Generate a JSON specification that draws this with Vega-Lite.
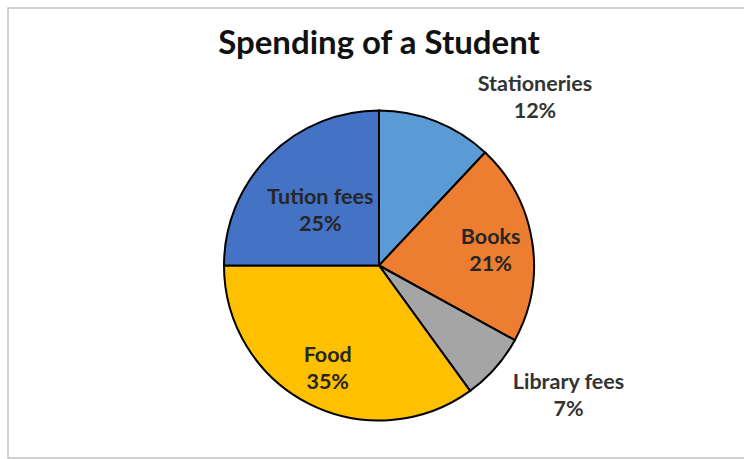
{
  "$schema": "https://vega.github.io/schema/vega-lite/v6.json",
  "width": 744,
  "height": 459,
  "autosize": {"type": "fit", "contains": "padding"},
  "padding": {"left": 8, "top": 8, "right": -6, "bottom": 1},
  "background": "white",
  "view": {"stroke": "#c4c4c4", "strokeWidth": 1.5},
  "config": {"view": {"stroke": "#c4c4c4", "strokeWidth": 1.5}},
  "title": {"text": "Spending of a Student", "font": "Lato", "fontSize": 33, "fontWeight": "bold", "color": "#111111", "anchor": "middle", "offset": -79, "baseline": "alphabetic"},
  "data": {"values": [
    {"category": "Stationeries", "value": 12, "ord": 1},
    {"category": "Books", "value": 21, "ord": 2},
    {"category": "Library fees", "value": 7, "ord": 3},
    {"category": "Food", "value": 35, "ord": 4},
    {"category": "Tution fees", "value": 25, "ord": 5}
  ]},
  "transform": [{"calculate": "datum.category + '\\n' + datum.value + '%'", "as": "label"}],
  "encoding": {
    "theta": {"field": "value", "type": "quantitative", "stack": true},
    "order": {"field": "ord", "type": "quantitative"}
  },
  "layer": [
    {
      "mark": {"type": "arc", "outerRadius": 155, "stroke": "black", "strokeWidth": 2, "yOffset": 32.5},
      "encoding": {
        "color": {"field": "category", "type": "nominal", "legend": null,
          "scale": {"domain": ["Stationeries", "Books", "Library fees", "Food", "Tution fees"],
                    "range": ["#5B9BD5", "#ED7D31", "#A5A5A5", "#FFC000", "#4472C4"]}}
      }
    },
    {
      "mark": {"type": "text", "radius": 83, "dx": 0, "dy": 24, "font": "Lato", "fontSize": 21.5, "fontWeight": "bold", "color": "#262626", "lineBreak": "\n", "lineHeight": 27},
      "encoding": {"text": {"condition": {"test": "datum.category == 'Tution fees'", "field": "label", "type": "nominal"}, "value": ""}}
    },
    {
      "mark": {"type": "text", "radius": 113, "dx": 0, "dy": 22.5, "font": "Lato", "fontSize": 21.5, "fontWeight": "bold", "color": "#262626", "lineBreak": "\n", "lineHeight": 27},
      "encoding": {"text": {"condition": {"test": "datum.category == 'Books' || datum.category == 'Food'", "field": "label", "type": "nominal"}, "value": ""}}
    },
    {
      "mark": {"type": "text", "radius": 190, "dx": 86, "dy": 28.5, "font": "Lato", "fontSize": 21.5, "fontWeight": "bold", "color": "#333333", "lineBreak": "\n", "lineHeight": 27},
      "encoding": {"text": {"condition": {"test": "datum.category == 'Stationeries'", "field": "label", "type": "nominal"}, "value": ""}}
    },
    {
      "mark": {"type": "text", "radius": 190, "dx": 47, "dy": 24.5, "font": "Lato", "fontSize": 21.5, "fontWeight": "bold", "color": "#333333", "lineBreak": "\n", "lineHeight": 27},
      "encoding": {"text": {"condition": {"test": "datum.category == 'Library fees'", "field": "label", "type": "nominal"}, "value": ""}}
    }
  ]
}
